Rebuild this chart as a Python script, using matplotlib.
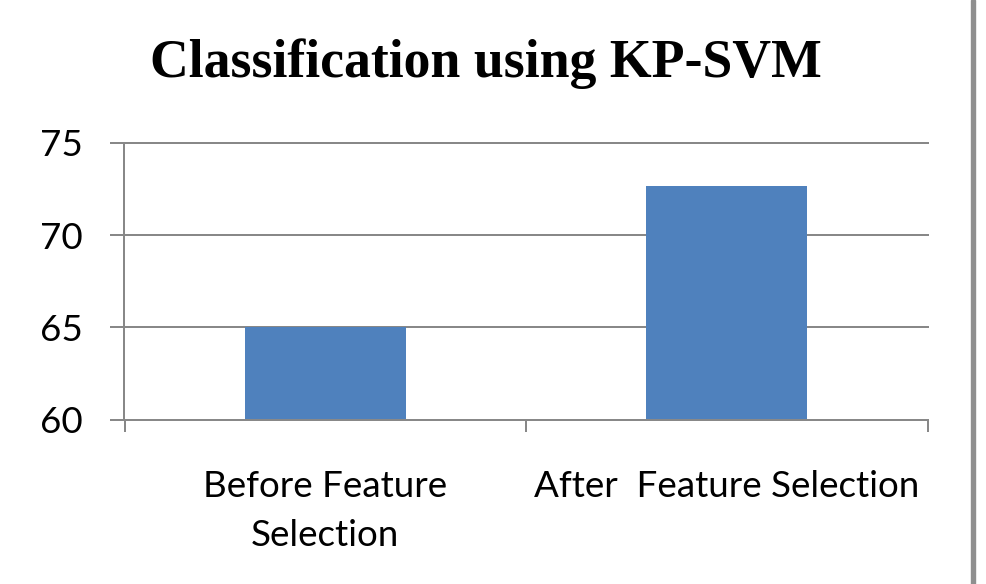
import matplotlib
matplotlib.use("Agg")
import matplotlib.pyplot as plt
from matplotlib.font_manager import FontProperties
from matplotlib.patches import Rectangle

# ---- data ----
categories = ["Before Feature\nSelection", "After  Feature Selection"]
values = [65.0, 72.65]
yticks = [60, 65, 70, 75]
ytick_labels = ["60", "65", "70", "75"]
title = "Classification using KP-SVM"

# ---- layout (pixels) ----
W, H, DPI = 986, 584, 100
GRAY = "#888888"
BAR = "#4F81BD"
LABEL_FONT = ["Lato", "DejaVu Sans"]
TITLE_FONT = ["Liberation Serif", "DejaVu Serif"]

fig = plt.figure(figsize=(W / DPI, H / DPI), dpi=DPI)
fig.patch.set_facecolor("white")


def px2pt(p):
    return p * 72.0 / DPI


ax_l, ax_r, ax_t, ax_b = 124.5, 927.5, 142.7, 419.7
ax = fig.add_axes([ax_l / W, 1 - ax_b / H, (ax_r - ax_l) / W, (ax_b - ax_t) / H])

renderer = fig.canvas.get_renderer()


def metrics(text, family, weight, size):
    fp = FontProperties(family=family, weight=weight, size=size)
    return renderer.get_text_width_height_descent(text, fp, ismath=False)


def fit_size(text, family, weight, target_w, start=20.0):
    w, h, d = metrics(text, family, weight, start)
    return start * target_w / w


# font sizes fitted to reference widths
lab_size = fit_size("Before Feature", LABEL_FONT, "normal", 245.0)
title_size = fit_size(title, TITLE_FONT, "bold", 671.0)

# x label vertical placement
_, lp_h, lp_d = metrics("lp", LABEL_FONT, "normal", lab_size)
first_baseline = 496.7
x_pad_px = first_baseline - (lp_h - lp_d) - ax_b
linespacing = (49.0 - lp_d) / (lp_h - lp_d)

# ---- bars ----
x = list(range(len(categories)))
ax.bar(x, values, width=0.4, color=BAR, zorder=2)
ax.set_xlim(-0.5, len(categories) - 0.5)
ax.set_ylim(yticks[0], yticks[-1])

ax.set_yticks(yticks)
ax.set_yticklabels(ytick_labels, fontsize=lab_size, family=LABEL_FONT, color="black")
ax.set_xticks(x)
ax.set_xticklabels(categories, fontsize=lab_size, family=LABEL_FONT,
                   color="black", linespacing=linespacing)
ax.set_xticks([i - 0.5 for i in range(len(categories) + 1)], minor=True)

lw = px2pt(2.0)
ax.tick_params(axis="x", which="major", length=0, pad=px2pt(x_pad_px))
ax.tick_params(axis="x", which="minor", length=px2pt(12), width=lw,
               color=GRAY, direction="out")
ax.tick_params(axis="y", which="major", length=px2pt(14.5), width=lw,
               color=GRAY, direction="out", pad=px2pt(110 - 82.7))

ax.set_axisbelow(True)
ax.yaxis.grid(True, color=GRAY, linewidth=lw)
for gl in ax.get_ygridlines():
    gl.set_clip_on(False)
for s in ("top", "right"):
    ax.spines[s].set_visible(False)
for s in ("left", "bottom"):
    ax.spines[s].set_color(GRAY)
    ax.spines[s].set_linewidth(lw)
    ax.spines[s].set_zorder(2.5)

# ---- title ----
fig.text(486.2 / W, 1 - 76.7 / H, title, ha="center", va="baseline",
         fontsize=title_size, family=TITLE_FONT, weight="bold", color="black")

# ---- right border ----
fig.add_artist(Rectangle((970.7 / W, 0), 4.0 / W, 1, transform=fig.transFigure,
                         color="#8f8f8f", zorder=10))

fig.savefig("out.png", dpi=DPI, facecolor="white")
